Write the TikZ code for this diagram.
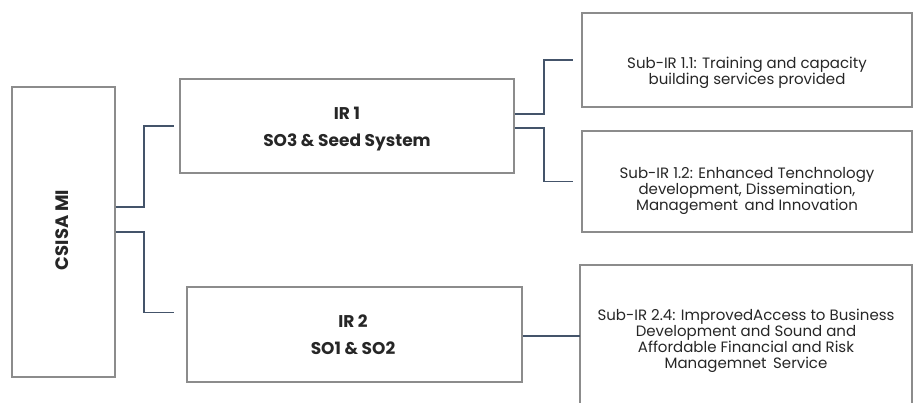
\documentclass[tikz,border=0pt]{standalone}
\usepackage{fontspec}
\setmainfont{Poppins}
\begin{document}
\begin{tikzpicture}[x=1pt,y=-1pt,
  box/.style={draw=black!45,line width=1.2pt,inner sep=0pt,align=center},
  conn/.style={draw=conncol,line width=1.3pt},
  subtxt/.style={font=\fontsize{15}{16}\selectfont,align=center,text=black!85},
  irtxt/.style={font=\fontsize{17}{27}\selectfont\bfseries,align=center,text=black!85}]
\definecolor{conncol}{HTML}{44546A}
\useasboundingbox (0,0) rectangle (913,403);
\node[box,minimum width=103pt,minimum height=290pt] (csisami) at (63.5,232) {};
\node[rotate=90,font=\fontsize{18}{20}\selectfont\bfseries,text=black!85] (cstxt) at (62,230) {CSISA MI};
\node[box,minimum width=334pt,minimum height=94pt] (ir1) at (347,126) {};
\node[irtxt] (ir1t) at (347,129) {IR 1\\SO3 \& Seed System};
\node[box,minimum width=335pt,minimum height=95pt] (ir2) at (354.5,334.5) {};
\node[irtxt] (ir2t) at (353,335) {IR 2\\SO1 \& SO2};
\node[box,minimum width=330pt,minimum height=94pt] (s11) at (747,60) {};
\node[subtxt] (s11t) at (747,72.5) {Sub-IR 1.1: Training and capacity\\building services provided};
\node[box,minimum width=330pt,minimum height=101pt] (s12) at (747,181.5) {};
\node[subtxt] (s12t) at (747,190.5) {Sub-IR 1.2: Enhanced Tenchnology\\development, Dissemination,\\Management\, and Innovation};
\draw[draw=black!45,line width=1.2pt] (580,404) -- (580,265) -- (912,265) -- (912,404);
\coordinate (s24w) at (580,336);
\node[subtxt] (s24t) at (746,340.5) {Sub-IR 2.4: ImprovedAccess to Business\\Development and Sound and\\Affordable Financial and Risk\\Managemnet\, Service};
\draw[conn,shorten >=5pt] ([yshift=25pt]csisami.east) -- (144,207) |- (ir1.west);
\draw[conn,shorten >=12pt] (csisami.east) -- (144,232) |- ([yshift=22pt]ir2.west);
\draw[conn,shorten >=8pt] ([yshift=12pt]ir1.east) -- (544,114) |- (s11.west);
\draw[conn,shorten >=8pt] ([yshift=-2pt]ir1.east) -- (544,128) |- (s12.west);
\draw[conn] ([yshift=-1.5pt]ir2.east) -- (s24w);
\end{tikzpicture}
\end{document}
